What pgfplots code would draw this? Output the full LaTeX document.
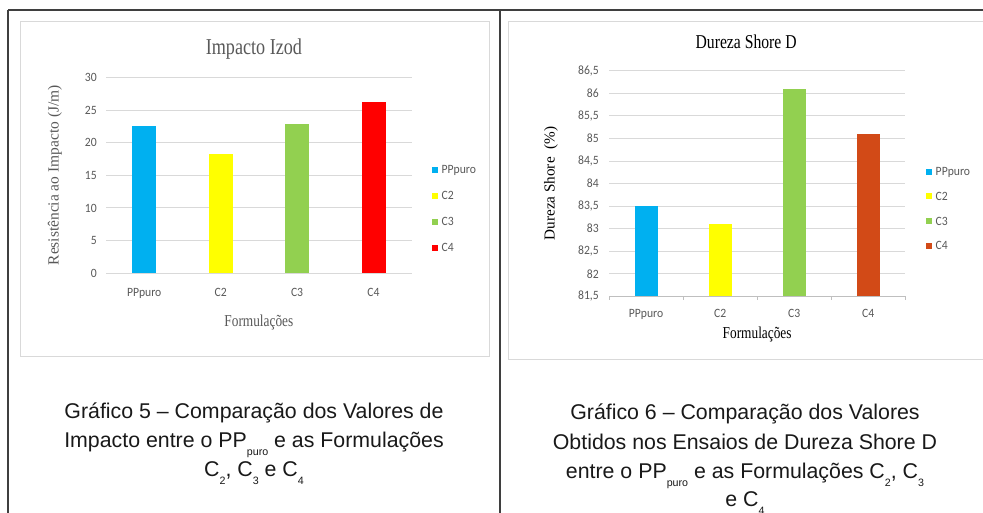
\documentclass[border=0pt]{standalone}
\usepackage{fontspec}
\usepackage{pgfplots}
\pgfplotsset{compat=1.18}
\setmainfont{Liberation Sans}
\newfontfamily\tnr{Liberation Serif}
\newfontfamily\tnrc[FakeStretch=0.8]{Liberation Serif}
\newfontfamily\calfont[FakeStretch=0.92]{Carlito}

\definecolor{cblue}{HTML}{00B0F0}
\definecolor{cyellow}{HTML}{FFFF00}
\definecolor{cgreen}{HTML}{92D050}
\definecolor{cred}{HTML}{FF0000}
\definecolor{corange}{HTML}{D24A17}
\definecolor{txtgray}{HTML}{595959}
\definecolor{gridgray}{HTML}{D9D9D9}
\definecolor{axgray}{HTML}{BFBFBF}
\definecolor{tablegray}{HTML}{3F3F3F}

\newcommand\sub[1]{\raisebox{-6pt}{\fontsize{8}{9}\selectfont #1}}

\pgfplotsset{
  chartbase/.style={
    scale only axis, anchor=south west,
    xmin=-0.5, xmax=3.5, xtick={0,1,2,3}, xticklabels={PPpuro,C2,C3,C4},
    major tick length=0pt,
    ymajorgrids, grid style={draw=gridgray, line width=0.75pt},
    ticklabel style={font=\calfont\fontsize{9.5}{11}\selectfont, text=txtgray, inner sep=0pt},
    /pgf/number format/assume math mode=true,
    every axis title shift=0pt,
    legend style={draw=none, fill=none, inner sep=0pt, outer sep=0pt, anchor=west,
      font=\calfont\fontsize{9.5}{11}\selectfont, text=txtgray,
      nodes={inner sep=0pt, text height=6.5pt, text depth=0pt}},
    legend cell align=left,
    legend image code/.code={\fill[##1,draw=none] (0pt,-2.25pt) rectangle (4.5pt,2.25pt); \path (7.3pt,0pt);},
  }
}

\begin{document}
\begin{tikzpicture}
\clip (0pt,0pt) rectangle (737.25pt,-384.75pt);
\fill[white] (0pt,0pt) rectangle (737.25pt,-384.75pt);
\begin{scope}[x=0.75pt, y=-0.75pt]
  % chart panels
  \draw[gridgray, line width=0.75pt] (20,22) rectangle (489,357);
  \draw[gridgray, line width=0.75pt] (508,22) rectangle (990,360);
  % table rules
  \draw[tablegray, line width=1pt] (8,10) -- (990,10);
  \draw[tablegray, line width=1pt] (8,10) -- (8,520);
  \draw[tablegray, line width=1pt] (500,10) -- (500,520);
  % captions
  \begin{scope}[every node/.style={anchor=base, inner sep=0pt, font=\fontsize{16}{18}\selectfont, text=black!90}]
    \node at (254,418.3) {Gráfico 5 – Comparação dos Valores de};
    \node at (254,447.5) {Impacto entre o PP\sub{puro} e as Formulações};
    \node at (254,477) {C\sub{2}, C\sub{3} e C\sub{4}};
    \node at (745,420) {Gráfico 6 – Comparação dos Valores};
    \node at (745,449.5) {Obtidos nos Ensaios de Dureza Shore D};
    \node at (745,479) {entre o PP\sub{puro} e as Formulações C\sub{2}, C\sub{3}};
    \node at (745,507) {e C\sub{4}};
  \end{scope}
\end{scope}

% Impacto Izod
\begin{axis}[chartbase,
  at={(79.5pt,-205pt)}, width=229.3pt, height=147pt,
  ymin=0, ymax=30, ytick={0,5,10,15,20,25,30},
  axis line style={draw=none},
  yticklabel style={xshift=-6.75pt},
  xticklabel style={yshift=-11pt},
  title={Impacto Izod},
  title style={font=\tnrc\fontsize{17}{20}\selectfont, text=txtgray, inner sep=0pt,
    at={(axis description cs:0.5,1)}, anchor=base, yshift=17pt, xshift=-3.7pt},
  xlabel={Formulações},
  xlabel style={font=\tnrc\fontsize{12.5}{15}\selectfont, text=txtgray, inner sep=0pt,
    at={(axis description cs:0.5,0)}, anchor=base, yshift=-40pt},
  ylabel={Resistência ao Impacto (J/m)},
  every axis y label/.style={font=\tnr\fontsize{11.6}{14}\selectfont, text=txtgray, inner sep=0pt,
    at={([xshift=-38.25pt]axis description cs:0,0.5)}, rotate=90, anchor=center},
  legend style={at={(1.066,0.33)}, row sep=13pt},
]
\addplot[ybar, bar width=18pt, bar shift=0pt, fill=cblue, draw=none] coordinates {(0,22.6)};
\addplot[ybar, bar width=18pt, bar shift=0pt, fill=cyellow, draw=none] coordinates {(1,18.3)};
\addplot[ybar, bar width=18pt, bar shift=0pt, fill=cgreen, draw=none] coordinates {(2,22.8)};
\addplot[ybar, bar width=18pt, bar shift=0pt, fill=cred, draw=none] coordinates {(3,26.2)};
\legend{PPpuro,C2,C3,C4}
\end{axis}

% Dureza Shore D
\begin{axis}[chartbase,
  at={(456.75pt,-222.2pt)}, width=222.2pt, height=169pt,
  ymin=81.5, ymax=86.5, ytick={81.5,82,82.5,83,83.5,84,84.5,85,85.5,86,86.5},
  /pgf/number format/fixed, /pgf/number format/precision=1, /pgf/number format/use comma,
  axis x line*=bottom, axis y line*=left,
  x axis line style={draw=axgray, line width=0.75pt},
  y axis line style={draw=none},
  extra x ticks={-0.5,0.5,1.5,2.5,3.5}, extra x tick labels={},
  extra x tick style={major tick length=2.8pt, tick align=outside,
    tick style={draw=axgray, line width=0.75pt}},
  yticklabel style={xshift=-7.5pt},
  xticklabel style={yshift=-9.5pt},
  title={Dureza Shore D},
  title style={font=\tnrc\fontsize{14.7}{17}\selectfont, text=black, inner sep=0pt,
    at={(axis description cs:0.5,1)}, anchor=base, yshift=16.5pt, xshift=-8.25pt},
  xlabel={Formulações},
  xlabel style={font=\tnrc\fontsize{12.5}{15}\selectfont, text=black, inner sep=0pt,
    at={(axis description cs:0.5,0)}, anchor=base, yshift=-31.5pt},
  ylabel={Dureza Shore\ \ (\%)},
  every axis y label/.style={font=\tnr\fontsize{11.4}{14}\selectfont, text=black, inner sep=0pt,
    at={([xshift=-43.5pt]axis description cs:0,0.5)}, rotate=90, anchor=center},
  legend style={at={(1.07,0.389)}, row sep=12pt},
]
\addplot[ybar, bar width=17.25pt, bar shift=0pt, fill=cblue, draw=none] coordinates {(0,83.5)};
\addplot[ybar, bar width=17.25pt, bar shift=0pt, fill=cyellow, draw=none] coordinates {(1,83.1)};
\addplot[ybar, bar width=17.25pt, bar shift=0pt, fill=cgreen, draw=none] coordinates {(2,86.1)};
\addplot[ybar, bar width=17.25pt, bar shift=0pt, fill=corange, draw=none] coordinates {(3,85.1)};
\legend{PPpuro,C2,C3,C4}
\end{axis}
\end{tikzpicture}
\end{document}
